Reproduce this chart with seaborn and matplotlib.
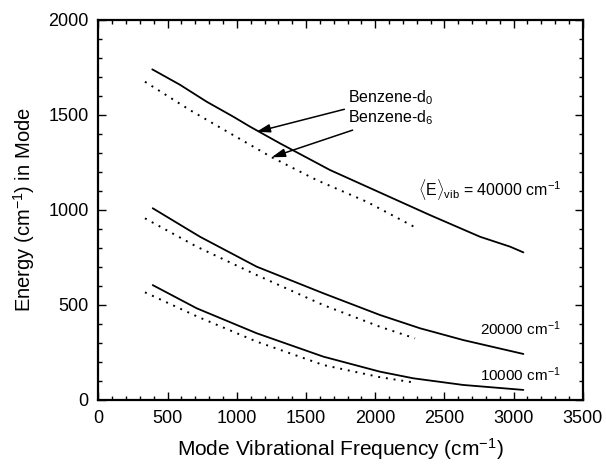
import matplotlib
matplotlib.use("Agg")
import matplotlib.pyplot as plt
from matplotlib.ticker import MultipleLocator
import seaborn as sns
import pandas as pd

# ---- data ----
d0_40k_x = [389, 589, 782, 975, 1095, 1312, 1673, 2396, 2758, 2975, 3071]
d0_40k_y = [1738, 1657, 1568, 1489, 1437, 1349, 1209, 972, 858, 806, 776]
d6_40k_x = [336, 661, 951, 1252, 1577, 1939, 2288]
d6_40k_y = [1673, 1524, 1402, 1276, 1156, 1042, 908]

d0_20k_x = [392, 734, 1143, 1625, 2034, 2324, 2637, 3071]
d0_20k_y = [1008, 858, 701, 561, 447, 377, 315, 242]
d6_20k_x = [336, 710, 1143, 1625, 2034, 2288]
d6_20k_y = [955, 806, 657, 499, 385, 324]

d0_10k_x = [392, 710, 1143, 1625, 2034, 2276, 2637, 3071]
d0_10k_y = [604, 482, 351, 228, 149, 114, 79, 53]
d6_10k_x = [336, 710, 1143, 1625, 2034, 2288]
d6_10k_y = [566, 440, 307, 184, 120, 91]

x_ticks = [0, 500, 1000, 1500, 2000, 2500, 3000, 3500]
y_ticks = [0, 500, 1000, 1500, 2000]

sns.set_style("ticks")
plt.rcParams['font.family'] = ['Liberation Sans', 'DejaVu Sans']
plt.rcParams['mathtext.fontset'] = 'custom'
plt.rcParams['mathtext.rm'] = 'Liberation Sans'
plt.rcParams['mathtext.it'] = 'Liberation Sans:italic'
plt.rcParams['mathtext.bf'] = 'Liberation Sans:bold'
plt.rcParams['text.color'] = 'black'
plt.rcParams['axes.labelcolor'] = 'black'
plt.rcParams['xtick.color'] = 'black'
plt.rcParams['ytick.color'] = 'black'
plt.rcParams['axes.edgecolor'] = 'black'

fig = plt.figure(figsize=(6.06, 4.68), dpi=100)
ax = fig.add_axes([0.1625, 0.1453, 0.7991, 0.8130])

series = [
    (d0_40k_x, d0_40k_y, 'solid'),
    (d6_40k_x, d6_40k_y, 'dotted'),
    (d0_20k_x, d0_20k_y, 'solid'),
    (d6_20k_x, d6_20k_y, 'dotted'),
    (d0_10k_x, d0_10k_y, 'solid'),
    (d6_10k_x, d6_10k_y, 'dotted'),
]
for xs, ys, st in series:
    df = pd.DataFrame({'x': xs, 'y': ys})
    if st == 'solid':
        sns.lineplot(data=df, x='x', y='y', ax=ax, color='black', lw=1.3, sort=False)
    else:
        sns.lineplot(data=df, x='x', y='y', ax=ax, color='black', lw=1.4,
                     linestyle=(0, (1.0, 3.0)), sort=False)

ax.set_xlim(0, 3500)
ax.set_ylim(0, 2000)
ax.set_xticks(x_ticks)
ax.set_yticks(y_ticks)
ax.xaxis.set_minor_locator(MultipleLocator(100))
ax.yaxis.set_minor_locator(MultipleLocator(100))
ax.tick_params(which='both', direction='in', top=True, right=True, labelsize=13, width=1.0)
ax.tick_params(which='major', length=6, pad=7)
ax.tick_params(which='minor', length=3)
for s in ax.spines.values():
    s.set_linewidth(1.6)

ax.set_xlabel('Mode Vibrational Frequency (cm$^{-1}$)', fontsize=15, labelpad=7)
ax.set_ylabel('Energy (cm$^{-1}$) in Mode', fontsize=14.5, labelpad=8)

arrow = dict(arrowstyle='-|>,head_length=0.7,head_width=0.22', color='black', lw=1.1,
             shrinkA=0, shrinkB=0)
ax.annotate('Benzene-d$_0$', xy=(1143, 1410), xytext=(1801, 1590),
            fontsize=11.5, va='center', ha='left', arrowprops=arrow)
ax.annotate('Benzene-d$_6$', xy=(1252, 1276), xytext=(1801, 1485),
            fontsize=11.5, va='center', ha='left', arrowprops=arrow)

ax.text(2312, 1104, r'$\langle\mathrm{E}\rangle_{\mathrm{vib}}$ = 40000 cm$^{-1}$',
        fontsize=11.5, va='center', ha='left')
ax.text(2757, 377, '20000 cm$^{-1}$', fontsize=11, va='center', ha='left')
ax.text(2757, 131, '10000 cm$^{-1}$', fontsize=11, va='center', ha='left')

fig.savefig('out.png', dpi=100)
